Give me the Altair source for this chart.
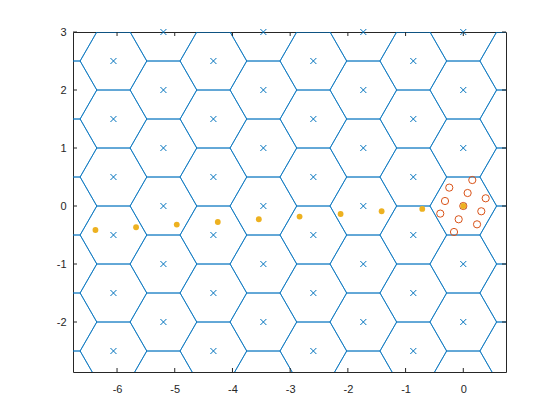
import math
import altair as alt
import pandas as pd

# ---- data -------------------------------------------------------------
# hexagonal lattice (flat-topped cells, unit vertical spacing)
hex_radius = 0.57735
hex_col_x = [0.866, 0.0, -0.866, -1.732, -2.598, -3.464, -4.330, -5.196, -6.062, -6.928]
hex_col_odd = [True, False, True, False, True, False, True, False, True, False]
rows_int = [-3, -2, -1, 0, 1, 2, 3, 4]
rows_half = [-3.5, -2.5, -1.5, -0.5, 0.5, 1.5, 2.5, 3.5]

# orange filled dots
orange_x = [-6.374, -5.670, -4.965, -4.254, -3.543, -2.837, -2.126, -1.415, -0.711, 0.0]
orange_y = [-0.414, -0.367, -0.320, -0.276, -0.229, -0.183, -0.138, -0.091, -0.050, 0.0]

# red open circles
red_x = [0.156, -0.243, 0.075, 0.388, -0.317, 0.0, 0.312, -0.399, -0.080, 0.238, -0.161]
red_y = [0.448, 0.317, 0.224, 0.133, 0.086, 0.0, -0.091, -0.131, -0.229, -0.316, -0.448]

x_ticks = [-6, -5, -4, -3, -2, -1, 0]
y_ticks = [-2, -1, 0, 1, 2, 3]
x_domain = [-6.763, 0.74]
y_domain = [-2.862, 3.0]

BLUE = "#0072BD"
ORANGE = "#EDB120"
RED = "#D95319"
AX = "#262626"
W, H = 433, 340

# ---- build tables -----------------------------------------------------
centers = []
for cx, odd in zip(hex_col_x, hex_col_odd):
    for cy in (rows_half if odd else rows_int):
        centers.append((cx, cy))

hex_rows = []
for hid, (cx, cy) in enumerate(centers):
    for k in range(7):
        a = math.radians(60 * k)
        hex_rows.append({"hid": hid, "ord": k,
                         "x": cx + hex_radius * math.cos(a),
                         "y": cy + hex_radius * math.sin(a)})
hex_df = pd.DataFrame(hex_rows)

cross_df = pd.DataFrame([{"x": cx, "y": cy} for cx, cy in centers
                         if x_domain[0] <= cx <= x_domain[1] and y_domain[0] <= cy <= y_domain[1] + 1e-9])
orange_df = pd.DataFrame({"x": orange_x, "y": orange_y})
red_df = pd.DataFrame({"x": red_x, "y": red_y})
xt_df = pd.DataFrame({"v": x_ticks})
yt_df = pd.DataFrame({"v": y_ticks})

xs = alt.Scale(domain=x_domain, nice=False, zero=False)
ys = alt.Scale(domain=y_domain, nice=False, zero=False)

lab = "datum.value < 0 ? '-' + format(-datum.value, 'd') : format(datum.value, 'd')"

hexes = alt.Chart(hex_df).mark_line(color=BLUE, strokeWidth=0.75, clip=True).encode(
    x=alt.X("x:Q", scale=xs, title=None,
            axis=alt.Axis(values=x_ticks, labelExpr=lab, labelPadding=17, labelBaseline="middle")),
    y=alt.Y("y:Q", scale=ys, title=None,
            axis=alt.Axis(values=y_ticks, labelExpr=lab, labelPadding=7)),
    detail="hid:N",
    order="ord:Q",
)

cross_shape = "M-1,-1L1,1M-1,1L1,-1"
crosses = alt.Chart(cross_df).mark_point(shape=cross_shape, size=36, color=BLUE,
                                         strokeWidth=1, filled=False, opacity=1).encode(
    x=alt.X("x:Q", scale=xs), y=alt.Y("y:Q", scale=ys))

reds = alt.Chart(red_df).mark_point(shape="circle", size=52, color=RED, filled=False,
                                    strokeWidth=1, opacity=1).encode(
    x=alt.X("x:Q", scale=xs), y=alt.Y("y:Q", scale=ys))

oranges = alt.Chart(orange_df).mark_circle(size=34, color=ORANGE, opacity=1).encode(
    x=alt.X("x:Q", scale=xs), y=alt.Y("y:Q", scale=ys))

tl = 4
bt = alt.Chart(xt_df).mark_rule(color=AX, strokeWidth=1).encode(
    x=alt.X("v:Q", scale=xs), y=alt.value(H), y2=alt.value(H - tl))
tt = alt.Chart(xt_df).mark_rule(color=AX, strokeWidth=1).encode(
    x=alt.X("v:Q", scale=xs), y=alt.value(0), y2=alt.value(tl))
lt = alt.Chart(yt_df).mark_rule(color=AX, strokeWidth=1).encode(
    y=alt.Y("v:Q", scale=ys), x=alt.value(0), x2=alt.value(tl))
rt = alt.Chart(yt_df).mark_rule(color=AX, strokeWidth=1).encode(
    y=alt.Y("v:Q", scale=ys), x=alt.value(W), x2=alt.value(W - tl))

chart = alt.layer(hexes, crosses, reds, oranges, bt, tt, lt, rt).properties(
    width=W, height=H,
    autosize=alt.AutoSizeParams(type="none"),
    padding={"left": 65, "top": 24, "right": 40, "bottom": 40},
    background="white",
).configure_view(stroke=AX, strokeWidth=1).configure_axis(
    ticks=False, tickSize=0, domain=False, grid=False,
    labelFont="Liberation Sans", labelFontSize=11, labelColor=AX,
)

chart.save("out.html", embed_options={"renderer": "svg", "actions": False})
